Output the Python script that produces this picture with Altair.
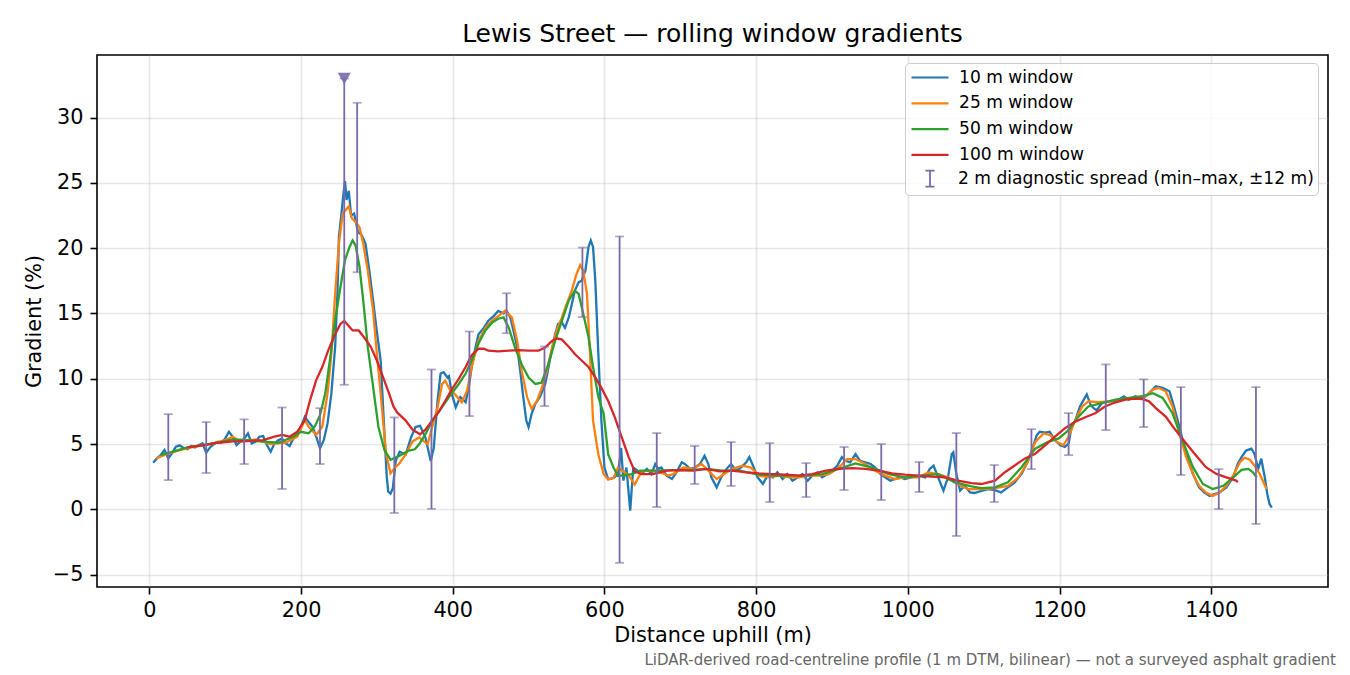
import altair as alt
import pandas as pd

FONT = "DejaVu Sans"

# ---------------- data ----------------
w10_x = [5, 10, 15, 20, 25, 30, 35, 40, 45, 50, 55, 60, 65, 70, 75, 80, 85, 90, 95, 100,
         105, 110, 115, 120, 125, 130, 135, 140, 145, 150, 155, 160, 165, 170, 175, 180,
         185, 190, 195, 200, 205, 210, 215, 220, 225, 230, 235, 240, 245, 248, 250, 253,
         256, 258, 260, 263, 266, 270, 275, 280, 285, 290, 295, 300, 305, 310, 313, 315,
         318, 321, 325, 330, 338, 345, 351, 357, 364, 371, 375, 380, 384, 388, 393, 395,
         399, 404, 410, 417, 421, 425, 430, 434, 441, 447, 454, 460, 467, 471, 476, 480,
         485, 489, 493, 497, 500, 504, 509, 515, 522, 528, 535, 539, 544, 548, 553, 557,
         561, 566, 570, 575, 579, 582, 585, 588, 592, 596, 600, 605, 612, 618, 622, 625,
         629, 634, 638, 645, 651, 656, 662, 667, 671, 675, 682, 689, 695, 702, 706, 713,
         719, 726, 732, 737, 741, 748, 754, 761, 767, 774, 780, 787, 791, 796, 802, 809,
         815, 822, 828, 835, 841, 848, 855, 861, 868, 874, 881, 887, 894, 900, 907, 913,
         918, 924, 931, 937, 944, 951, 957, 964, 970, 977, 983, 990, 996, 1005, 1014, 1023,
         1029, 1034, 1040, 1047, 1053, 1058, 1060, 1064, 1069, 1075, 1082, 1088, 1097, 1106,
         1115, 1123, 1132, 1141, 1150, 1159, 1165, 1170, 1174, 1181, 1187, 1194, 1201, 1207,
         1212, 1216, 1221, 1227, 1232, 1236, 1241, 1245, 1249, 1256, 1265, 1274, 1285, 1291,
         1300, 1309, 1318, 1327, 1336, 1345, 1351, 1358, 1364, 1371, 1378, 1384, 1391, 1398,
         1404, 1411, 1420, 1429, 1435, 1440, 1446, 1453, 1457, 1462, 1466, 1471, 1474, 1477,
         1480]
w10_y = [3.57, 3.9, 4.16, 4.54, 3.9, 4.3, 4.8, 4.9, 4.7, 4.6, 4.85, 4.74, 4.9, 5.05, 4.34,
         4.74, 5.0, 5.18, 5.1, 5.43, 5.94, 5.56, 4.92, 5.18, 5.41, 5.82, 5.05, 5.18, 5.56,
         5.61, 4.92, 4.41, 5.05, 5.3, 5.43, 5.05, 4.85, 5.43, 5.82, 6.33, 7.09, 6.7, 6.33,
         5.56, 4.67, 5.3, 6.58, 8.88, 12.45, 16.5, 20.9, 22.5, 24.2, 25.15, 23.7, 24.4, 22.5,
         22.65, 21.25, 21.0, 20.36, 18.3, 16.0, 13.6, 11.4, 5.8, 2.5, 1.35, 1.2, 1.6, 3.75,
         4.4, 4.2, 5.5, 6.3, 6.4, 5.5, 3.7, 4.7, 8.3, 10.4, 10.5, 10.1, 10.2, 8.8, 7.8, 8.6,
         8.2, 9.3, 10.9, 12.4, 13.4, 13.9, 14.45, 14.8, 15.2, 15.0, 15.2, 14.7, 13.7, 12.4,
         10.6, 8.6, 6.8, 6.3, 7.3, 8.1, 8.6, 9.6, 11.4, 13.4, 14.2, 14.3, 13.9, 14.7, 15.7,
         16.75, 17.4, 17.5, 18.3, 20.1, 20.6, 20.1, 17.5, 11.9, 6.8, 3.2, 2.3, 2.4, 2.7, 4.7,
         2.2, 3.2, -0.1, 3.2, 2.9, 2.83, 3.1, 2.7, 3.47, 3.1, 3.2, 2.58, 2.32, 2.83, 3.6,
         3.47, 3.1, 3.2, 3.47, 4.1, 3.47, 2.45, 1.68, 2.45, 3.1, 3.47, 2.96, 3.2, 3.6, 4.0,
         3.34, 2.45, 1.94, 2.58, 2.45, 2.83, 2.32, 2.7, 2.19, 2.45, 2.7, 2.19, 2.58, 2.83,
         2.45, 2.7, 2.96, 3.34, 4.0, 3.72, 3.6, 4.23, 3.72, 3.6, 3.47, 3.2, 2.7, 2.45, 2.19,
         2.32, 2.45, 2.32, 2.45, 2.58, 2.45, 3.1, 3.34, 2.45, 1.43, 2.45, 4.23, 4.36, 2.7,
         1.43, 1.8, 1.3, 1.25, 1.42, 1.55, 1.47, 1.29, 1.68, 2.07, 2.71, 3.75, 4.78, 5.68,
         5.94, 5.87, 5.94, 5.3, 4.9, 4.78, 5.04, 6.33, 6.85, 7.88, 8.4, 8.8, 8.0, 7.75, 7.6,
         8.14, 8.27, 8.27, 8.66, 8.4, 8.66, 8.45, 8.9, 9.43, 9.3, 9.04, 7.88, 6.33, 4.9,
         3.49, 2.45, 1.68, 1.29, 1.03, 1.16, 1.29, 1.68, 2.45, 3.49, 4.0, 4.5, 4.65, 4.26,
         3.1, 3.88, 2.33, 1.16, 0.39, 0.13]

w25_x = [9, 20, 40, 60, 80, 100, 110, 120, 140, 160, 180, 195, 205, 210, 220, 228, 235, 240,
         245, 250, 255, 260, 263, 267, 272, 277, 282, 288, 295, 300, 305, 312, 318, 325, 329,
         338, 347, 356, 362, 367, 373, 380, 386, 390, 397, 403, 412, 419, 425, 434, 443, 452,
         460, 469, 478, 485, 491, 498, 504, 511, 517, 524, 531, 537, 544, 550, 557, 563, 568,
         572, 577, 581, 585, 592, 599, 605, 612, 618, 625, 632, 640, 649, 660, 674, 684, 691,
         704, 717, 728, 737, 748, 758, 769, 782, 793, 804, 817, 830, 844, 857, 870, 883, 896,
         909, 920, 931, 944, 957, 970, 983, 996, 1014, 1027, 1040, 1053, 1066, 1079, 1097,
         1115, 1132, 1146, 1157, 1168, 1179, 1188, 1196, 1205, 1212, 1221, 1230, 1238, 1252,
         1265, 1278, 1292, 1305, 1314, 1323, 1331, 1340, 1349, 1358, 1367, 1376, 1384, 1393,
         1402, 1411, 1420, 1429, 1438, 1444, 1451, 1457, 1464, 1471, 1473]
w25_y = [3.9, 4.16, 4.54, 4.8, 5.0, 5.3, 5.56, 5.18, 5.36, 5.0, 5.1, 5.56, 6.84, 6.33, 5.7,
         6.33, 8.88, 11.9, 16.5, 20.4, 22.65, 23.0, 23.2, 22.3, 22.0, 21.6, 20.36, 18.3,
         15.25, 11.9, 8.88, 4.3, 2.75, 3.27, 3.45, 4.2, 5.2, 5.5, 5.2, 5.0, 6.3, 7.8, 9.6,
         9.85, 9.1, 8.8, 8.2, 9.1, 10.9, 12.9, 13.9, 14.45, 14.8, 15.2, 14.7, 12.9, 10.6, 8.6,
         7.7, 8.3, 9.2, 10.6, 12.4, 13.7, 14.7, 15.7, 16.75, 18.0, 18.7, 18.3, 16.5, 11.9,
         6.8, 4.2, 2.7, 2.3, 2.4, 3.2, 2.9, 2.6, 1.9, 2.9, 2.96, 2.83, 2.58, 2.7, 3.2, 3.1,
         3.47, 2.96, 2.32, 2.7, 3.1, 3.34, 3.2, 2.58, 2.45, 2.58, 2.45, 2.45, 2.58, 2.58, 2.7,
         3.2, 3.85, 3.85, 3.47, 2.96, 2.58, 2.32, 2.45, 2.45, 2.83, 2.7, 2.45, 1.94, 1.55,
         1.55, 1.63, 1.8, 2.45, 3.49, 5.17, 5.81, 5.68, 5.17, 4.9, 5.56, 6.85, 7.88, 8.27,
         8.2, 8.27, 8.4, 8.53, 8.53, 8.66, 9.17, 9.3, 9.04, 7.88, 5.81, 4.0, 2.71, 1.8, 1.29,
         1.03, 1.29, 1.8, 2.58, 3.62, 3.95, 3.8, 3.36, 2.71, 1.8, 1.55]

w50_x = [15, 30, 50, 70, 90, 110, 130, 150, 170, 190, 200, 210, 218, 225, 232, 238, 245, 252,
         258, 264, 268, 272, 277, 282, 288, 295, 302, 310, 318, 330, 342, 350, 356, 364, 373,
         382, 395, 408, 417, 425, 434, 443, 452, 460, 467, 474, 482, 491, 500, 509, 517, 526,
         535, 544, 553, 561, 566, 572, 579, 585, 592, 599, 605, 612, 618, 636, 647, 669, 691,
         713, 734, 756, 778, 800, 822, 844, 865, 887, 909, 931, 953, 975, 996, 1018, 1040,
         1062, 1084, 1097, 1115, 1132, 1150, 1168, 1185, 1199, 1212, 1225, 1238, 1256, 1274,
         1292, 1309, 1323, 1336, 1349, 1362, 1376, 1389, 1402, 1416, 1429, 1440, 1449, 1455,
         1460]
w50_y = [4.16, 4.4, 4.74, 4.92, 5.1, 5.36, 5.3, 5.18, 5.1, 5.56, 5.94, 5.82, 6.33, 7.2, 8.88,
         11.4, 14.5, 17.04, 19.1, 20.1, 20.6, 20.2, 18.6, 16.0, 12.45, 9.4, 6.33, 4.54, 3.8,
         4.1, 4.5, 4.6, 5.0, 5.75, 6.8, 7.5, 8.6, 9.6, 10.4, 11.4, 12.7, 13.7, 14.3, 14.6,
         14.7, 13.9, 12.4, 11.1, 10.1, 9.6, 9.7, 11.1, 12.9, 14.45, 16.0, 16.75, 16.5, 15.0,
         13.2, 10.9, 8.6, 7.3, 4.2, 3.2, 2.55, 2.7, 2.96, 2.96, 3.0, 3.0, 3.1, 2.96, 2.96,
         2.7, 2.58, 2.58, 2.58, 2.7, 3.1, 3.52, 3.2, 2.7, 2.45, 2.58, 2.7, 2.07, 1.75, 1.63,
         1.68, 2.07, 3.23, 4.65, 5.17, 5.43, 6.07, 7.1, 7.88, 8.14, 8.4, 8.53, 8.66, 8.9,
         8.53, 7.36, 5.3, 3.23, 1.94, 1.55, 1.8, 2.45, 3.02, 3.1, 2.84, 2.45]

w100_x = [50, 70, 90, 110, 130, 150, 165, 175, 185, 195, 205, 212, 220, 228, 236, 244, 252,
          257, 262, 268, 276, 284, 292, 300, 308, 316, 322, 327, 338, 347, 357, 364, 373, 382,
          390, 399, 408, 417, 425, 434, 441, 447, 460, 474, 487, 500, 513, 522, 531, 537, 544,
          553, 561, 570, 579, 588, 596, 605, 614, 623, 632, 640, 649, 664, 682, 699, 717, 734,
          752, 769, 787, 804, 822, 839, 857, 874, 892, 909, 927, 944, 962, 979, 996, 1014,
          1031, 1049, 1066, 1084, 1097, 1115, 1128, 1141, 1154, 1168, 1181, 1194, 1207, 1221,
          1234, 1247, 1260, 1274, 1287, 1300, 1309, 1318, 1327, 1340, 1353, 1367, 1380, 1393,
          1407, 1420, 1433, 1435]
w100_y = [4.74, 4.9, 5.1, 5.2, 5.23, 5.3, 5.56, 5.7, 5.56, 5.94, 6.84, 8.37, 9.9, 10.9, 12.2,
          13.3, 14.2, 14.44, 14.1, 13.7, 13.7, 13.1, 12.45, 11.4, 10.15, 8.88, 7.86, 7.4, 6.8,
          6.1, 5.75, 6.1, 6.8, 7.5, 8.3, 9.2, 10.0, 10.9, 11.8, 12.3, 12.3, 12.15, 12.1,
          12.15, 12.2, 12.15, 12.15, 12.4, 12.9, 13.1, 13.0, 12.45, 11.9, 11.4, 10.9, 10.1,
          9.3, 8.3, 7.0, 5.5, 4.0, 2.9, 2.7, 2.7, 2.96, 3.0, 2.96, 3.1, 2.9, 2.96, 2.83, 2.75,
          2.7, 2.65, 2.58, 2.7, 2.96, 3.1, 3.16, 3.1, 2.96, 2.75, 2.65, 2.58, 2.5, 2.45, 2.19,
          2.0, 1.94, 2.2, 2.84, 3.36, 3.88, 4.26, 4.9, 5.56, 6.2, 6.72, 7.05, 7.36, 7.88, 8.2,
          8.4, 8.48, 8.45, 8.27, 7.75, 7.1, 6.07, 5.04, 4.13, 3.23, 2.71, 2.45, 2.2, 2.07]

spread_x = [25, 75, 125, 175, 225, 257, 274, 323, 372, 422, 471, 521, 571, 620, 669, 719,
            767, 818, 866, 916, 965, 1015, 1064, 1114, 1163, 1212, 1261, 1311, 1360, 1410, 1459]
spread_lo = [2.24, 2.78, 3.47, 1.56, 3.47, 9.54, 18.16, -0.28, 0.03, 7.14, 13.49, 7.91, 14.72,
             -4.1, 0.18, 1.94, 1.79, 0.56, 0.94, 1.48, 0.71, 1.33, -2.04, 0.56, 3.08, 4.15,
             6.07, 6.30, 2.63, 0.02, -1.12]
spread_hi = [7.29, 6.68, 6.89, 7.80, 7.75, 33.0, 31.14, 7.04, 10.71, 13.62, 16.55, 12.47,
             20.05, 20.9, 5.84, 4.85, 5.15, 5.07, 3.54, 4.77, 5.0, 3.62, 5.84, 3.39, 6.14, 7.37,
             11.1, 9.95, 9.36, 3.08, 9.36]

clip_x = [257]
clip_y = [33.0]

SERIES = ["10 m window", "25 m window", "50 m window", "100 m window"]
SPREAD = "2 m diagnostic spread (min–max, ±12 m)"
COLORS = ["#1f77b4", "#ff7f0e", "#2ca02c", "#d62728"]
SPREAD_COLOR = "#7a6aa8"
TITLE = "Lewis Street — rolling window gradients"
FOOTNOTE = "LiDAR-derived road-centreline profile (1 m DTM, bilinear) — not a surveyed asphalt gradient"

# ---------------- chart ----------------
W, H = 1231, 532
LEG_X, LEG_Y = 808, 8
ROW = 25.5
LFS = 17.1

x_scale = alt.Scale(domain=[-69, 1554], nice=False, zero=False)
y_scale = alt.Scale(domain=[-5.95, 34.8], nice=False, zero=False)
color_scale = alt.Scale(domain=SERIES, range=COLORS)

common_axis = dict(grid=True, gridColor="#b0b0b0", gridOpacity=0.3, gridWidth=1.6,
                   domain=False, ticks=True, tickSize=7, tickWidth=1.6, tickColor="black",
                   labelFont=FONT, labelFontSize=20.8, labelColor="black",
                   titleFont=FONT, titleFontSize=20.8, titleFontWeight="normal",
                   titleColor="black")

x_axis = alt.Axis(values=list(range(0, 1401, 200)), title="Distance uphill (m)", format="d",
                  labelPadding=6, titlePadding=6, **common_axis)
y_axis = alt.Axis(values=list(range(-5, 31, 5)), title="Gradient (%)",
                  labelPadding=7, titlePadding=8,
                  labelExpr="replace(datum.label, '-', '\u2212')", **common_axis)

# legend for the four window lines (drawn inside the framed spread legend)
line_legend = alt.Legend(
    title=None, orient="none", legendX=LEG_X + 4, legendY=LEG_Y + 3,
    labelFont=FONT, labelFontSize=LFS, labelColor="black", labelOffset=27,
    symbolType="M-0.9,0L2.8,0", symbolSize=400, symbolStrokeWidth=2.2,
    rowPadding=5.8, padding=0, labelLimit=500, zindex=2,
)
color_enc = alt.Color("series:N", scale=color_scale, legend=line_legend)

# framed legend for the diagnostic spread; blank title lines reserve room for the lines above
spread_legend = alt.Legend(
    title=["\u00a0"] * 4, titleFontSize=LFS, titleLineHeight=ROW, titlePadding=7,
    titleFont=FONT, orient="none", legendX=LEG_X, legendY=LEG_Y,
    labelFont=FONT, labelFontSize=LFS, labelColor="black", labelOffset=27,
    symbolType="M1,-0.8L1,0.8M0.55,-0.8L1.45,-0.8M0.55,0.8L1.45,0.8", symbolSize=400,
    symbolStrokeWidth=1.8, symbolStrokeColor=SPREAD_COLOR, symbolFillColor="transparent",
    padding=4, strokeColor="#cccccc", fillColor="rgba(255,255,255,0.8)", cornerRadius=4,
    labelLimit=600, zindex=1,
)

layers = []
for name, xs, ys in [(SERIES[0], w10_x, w10_y), (SERIES[1], w25_x, w25_y),
                     (SERIES[2], w50_x, w50_y), (SERIES[3], w100_x, w100_y)]:
    df = pd.DataFrame({"d": xs, "g": ys, "series": name})
    layers.append(
        alt.Chart(df).mark_line(strokeWidth=2.3, clip=True).encode(
            x=alt.X("d:Q", scale=x_scale, axis=x_axis),
            y=alt.Y("g:Q", scale=y_scale, axis=y_axis),
            color=color_enc,
        )
    )

spread_df = pd.DataFrame({"d": spread_x, "lo": spread_lo, "hi": spread_hi, "kind": SPREAD})
base_sp = alt.Chart(spread_df)
layers.append(base_sp.mark_rule(strokeWidth=1.8, color=SPREAD_COLOR).encode(
    x="d:Q", y="lo:Q", y2="hi:Q",
    opacity=alt.Opacity("kind:N", scale=alt.Scale(domain=[SPREAD], range=[0.6]),
                        legend=spread_legend)))
layers.append(base_sp.mark_tick(orient="horizontal", size=9, thickness=1.8, opacity=0.6,
                                color=SPREAD_COLOR).encode(x="d:Q", y="lo:Q"))
layers.append(base_sp.mark_tick(orient="horizontal", size=9, thickness=1.8, opacity=0.6,
                                color=SPREAD_COLOR).encode(x="d:Q", y="hi:Q"))

clip_df = pd.DataFrame({"d": clip_x, "g": clip_y})
layers.append(alt.Chart(clip_df).mark_point(shape="triangle-down", filled=True, size=170,
                                            color=SPREAD_COLOR, opacity=0.9).encode(
    x="d:Q", y="g:Q"))

foot_df = pd.DataFrame({"t": [FOOTNOTE]})
layers.append(alt.Chart(foot_df).mark_text(align="right", baseline="middle", font=FONT,
                                           fontSize=15, color="#666666").encode(
    x=alt.value(1239), y=alt.value(605), text="t:N"))

chart = alt.layer(*layers).properties(
    width=W, height=H,
    title=alt.TitleParams(TITLE, font=FONT, fontSize=25, fontWeight="normal",
                          color="black", anchor="middle", offset=8),
    autosize=alt.AutoSizeParams(type="none"),
    padding={"left": 89, "top": 47, "right": 14, "bottom": 100},
).configure(
    background="white",
    view=alt.ViewConfig(stroke="black", strokeWidth=1.6),
)

chart.save("out.html", embed_options={"renderer": "svg", "actions": False})
